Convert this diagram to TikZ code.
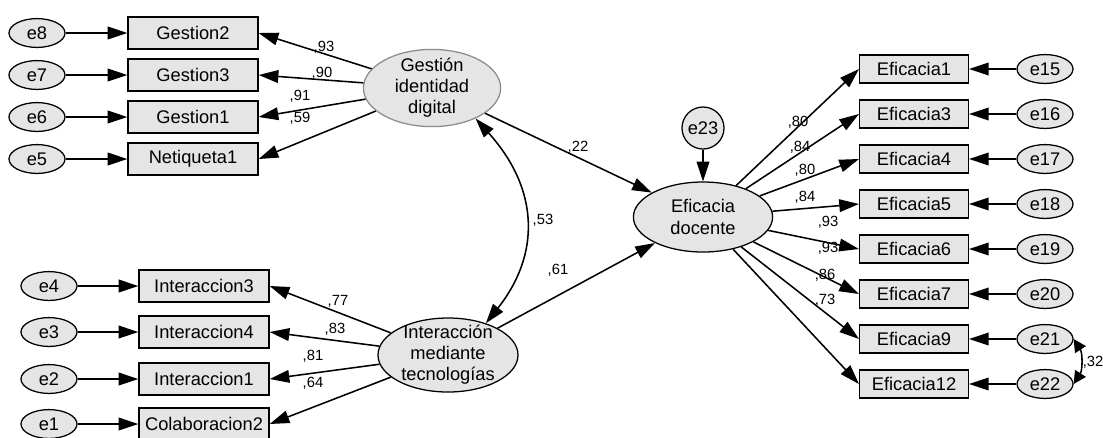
\documentclass[tikz,border=0pt]{standalone}
\usepackage{fontspec}
\setmainfont{Liberation Sans}
\usetikzlibrary{arrows.meta,shapes.geometric}
\tikzset{
  semobs/.style={draw, line width=0.9pt, fill=black!10, minimum width=3.25cm, minimum height=0.8cm, inner sep=0pt, font=\fontsize{13}{15}\selectfont},
  semobsr/.style={semobs, minimum width=2.72cm, minimum height=0.7cm},
  semerr/.style={draw, ellipse, line width=0.9pt, fill=black!10, minimum width=1.4cm, minimum height=0.72cm, inner sep=0pt, font=\fontsize{13}{15}\selectfont},
  semlat/.style={draw, ellipse, line width=0.9pt, fill=black!10, minimum width=3.45cm, minimum height=1.9cm, inner sep=0pt,
    label={[align=center, font=\fontsize{13}{15}\selectfont]center:#1}},
  semarrow/.style={-{Triangle[length=14pt,width=9pt]}, line width=1.1pt},
  semcov/.style={{Triangle[length=14pt,width=9pt]}-{Triangle[length=14pt,width=9pt]}, line width=1.1pt},
  semcovs/.style={{Triangle[length=9pt,width=9pt]}-{Triangle[length=9pt,width=9pt]}, line width=1.1pt},
  semcoef/.style={font=\fontsize{10.5}{12}\selectfont, inner sep=1pt}
}
\begin{document}
\begin{tikzpicture}[x=0.025cm, y=-0.025cm]
\useasboundingbox (0,0) rectangle (1103,437);

\node[semerr] (e8) at (37,33) {e8};
\node[semerr] (e7) at (37,75) {e7};
\node[semerr] (e6) at (37,117) {e6};
\node[semerr] (e5) at (37,159) {e5};
\node[semobs] (gestion2) at (193,33) {Gestion2};
\node[semobs] (gestion3) at (193,75) {Gestion3};
\node[semobs] (gestion1) at (193,117) {Gestion1};
\node[semobs] (netiqueta1) at (193,159) {Netiqueta1};
\node[semlat={Gestión\\identidad\\digital}, draw=black!45, minimum width=3.43cm, minimum height=1.93cm] (gest) at (432,88) {};

\node[semerr] (e4) at (49,286) {e4};
\node[semerr] (e3) at (49,332) {e3};
\node[semerr] (e2) at (49,379) {e2};
\node[semerr] (e1) at (49,424) {e1};
\node[semobs] (inter3) at (204,286) {Interaccion3};
\node[semobs] (inter4) at (204,332) {Interaccion4};
\node[semobs] (inter1) at (204,379) {Interaccion1};
\node[semobs] (colab2) at (204,424) {Colaboracion2};
\node[semlat={Interacción\\mediante\\tecnologías}, minimum width=3.5cm, minimum height=1.85cm] (inter) at (448,355) {};

\node[semlat={Eficacia\\docente}, minimum width=3.48cm, minimum height=1.75cm] (efic) at (703,217) {};
\node[semerr, circle, minimum size=1.05cm] (e23) at (703,128) {e23};

\node[semobsr] (efic1) at (914,69) {Eficacia1};
\node[semobsr] (efic3) at (914,114) {Eficacia3};
\node[semobsr] (efic4) at (914,159) {Eficacia4};
\node[semobsr] (efic5) at (914,204) {Eficacia5};
\node[semobsr] (efic6) at (914,249) {Eficacia6};
\node[semobsr] (efic7) at (914,294) {Eficacia7};
\node[semobsr] (efic9) at (914,339) {Eficacia9};
\node[semobsr] (efic12) at (914,384) {Eficacia12};
\node[semerr] (e15) at (1045,69) {e15};
\node[semerr] (e16) at (1045,114) {e16};
\node[semerr] (e17) at (1045,159) {e17};
\node[semerr] (e18) at (1045,204) {e18};
\node[semerr] (e19) at (1045,249) {e19};
\node[semerr] (e20) at (1045,294) {e20};
\node[semerr] (e21) at (1045,339) {e21};
\node[semerr] (e22) at (1045,384) {e22};

\draw[semarrow] (e8) -- (gestion2);
\draw[semarrow] (e7) -- (gestion3);
\draw[semarrow] (e6) -- (gestion1);
\draw[semarrow] (e5) -- (netiqueta1);
\draw[semarrow] (gest) -- (gestion2.east);
\draw[semarrow] (gest) -- (gestion3.east);
\draw[semarrow] (gest) -- (gestion1.east);
\draw[semarrow] (gest) -- (netiqueta1.east);

\draw[semarrow] (e4) -- (inter3);
\draw[semarrow] (e3) -- (inter4);
\draw[semarrow] (e2) -- (inter1);
\draw[semarrow] (e1) -- (colab2);
\draw[semarrow] (inter) -- (inter3.east);
\draw[semarrow] (inter) -- (inter4.east);
\draw[semarrow] (inter) -- (inter1.east);
\draw[semarrow] (inter) -- (colab2.east);

\draw[semarrow] (gest) -- (efic);
\draw[semarrow] (inter) -- (efic);
\draw[semarrow] (e23) -- (efic);
\draw[semcov] (gest.-35) .. controls (540,190) and (540,255) .. (inter.40);

\draw[semarrow] (efic) -- (efic1.west);
\draw[semarrow] (efic) -- (efic3.west);
\draw[semarrow] (efic) -- (efic4.west);
\draw[semarrow] (efic) -- (efic5.west);
\draw[semarrow] (efic) -- (efic6.west);
\draw[semarrow] (efic) -- (efic7.west);
\draw[semarrow] (efic) -- (efic9.west);
\draw[semarrow] (efic) -- (efic12.west);
\draw[semarrow] (e15) -- (efic1);
\draw[semarrow] (e16) -- (efic3);
\draw[semarrow] (e17) -- (efic4);
\draw[semarrow] (e18) -- (efic5);
\draw[semarrow] (e19) -- (efic6);
\draw[semarrow] (e20) -- (efic7);
\draw[semarrow] (e21) -- (efic9);
\draw[semarrow] (e22) -- (efic12);
\draw[semcovs] (e21.east) .. controls +(9,14) and +(9,-14) .. (e22.east);

\node[semcoef] (c93g) at (324,47) {,93};
\node[semcoef] (c90g) at (322,73) {,90};
\node[semcoef] (c91g) at (300,96) {,91};
\node[semcoef] (c59g) at (300,118) {,59};
\node[semcoef] (c77i) at (338,301) {,77};
\node[semcoef] (c83i) at (335,329) {,83};
\node[semcoef] (c81i) at (313,356) {,81};
\node[semcoef] (c64i) at (313,383) {,64};
\node[semcoef] (c22) at (578,147) {,22};
\node[semcoef] (c53) at (543,220) {,53};
\node[semcoef] (c61) at (558,270) {,61};
\node[semcoef] (c80a) at (798,122) {,80};
\node[semcoef] (c84a) at (800,147) {,84};
\node[semcoef] (c80b) at (805,170) {,80};
\node[semcoef] (c84b) at (805,197) {,84};
\node[semcoef] (c93a) at (828,222) {,93};
\node[semcoef] (c93b) at (828,248) {,93};
\node[semcoef] (c86) at (825,275) {,86};
\node[semcoef] (c73) at (825,300) {,73};
\node[semcoef] (c32) at (1093,362) {,32};
\end{tikzpicture}
\end{document}
